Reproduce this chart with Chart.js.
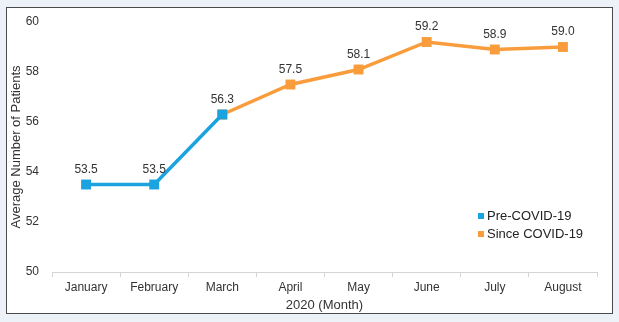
<!DOCTYPE html>
<html>
<head>
<meta charset="utf-8">
<script src="https://cdn.jsdelivr.net/npm/chart.js@4"></script>
<style>
  html, body { margin: 0; padding: 0; background: #edf1f8; }
  #panel {
    position: absolute; left: 6px; top: 7px; width: 605px; height: 305px;
    background: #fff; border: 1px solid #4a4a4a;
  }
  #wrap { position: absolute; left: 0; top: 0; width: 619px; height: 322px; }
</style>
</head>
<body>
<div id="panel"></div>
<div id="wrap"><canvas id="chart" width="619" height="322"></canvas></div>
<script>
/* ---- data ---- */
const months = ["January", "February", "March", "April", "May", "June", "July", "August"];
const preCovid = [53.5, 53.5, 56.3, null, null, null, null, null];
const sinceCovid = [null, null, 56.3, 57.5, 58.1, 59.2, 58.9, 59.0];
const seriesNames = ["Pre-COVID-19", "Since COVID-19"];
const yMin = 50, yMax = 60, yStep = 2;

const BLUE = "#1aa3de";
const ORANGE = "#f89c3c";
const FONT = "'Liberation Sans', Arial, sans-serif";

/* value labels above points, each index drawn once */
const pointLabels = {
    id: "pointLabels",
    afterDatasetsDraw(chart) {
        const ctx = chart.ctx;
        const done = {};
        ctx.save();
        ctx.font = "12px " + FONT;
        ctx.fillStyle = "#333";
        ctx.textAlign = "center";
        ctx.textBaseline = "middle";
        chart.data.datasets.forEach((ds, di) => {
            chart.getDatasetMeta(di).data.forEach((pt, i) => {
                const v = ds.data[i];
                if (v === null || done[i]) return;
                done[i] = true;
                ctx.fillText(v.toFixed(1), pt.x, pt.y - 15);
            });
        });
        ctx.restore();
    }
};

/* legend at lower right of the plot */
const cornerLegend = {
    id: "cornerLegend",
    afterDraw(chart) {
        const ctx = chart.ctx;
        const x = 478, y0 = 216, gap = 18;
        ctx.save();
        ctx.font = "13px " + FONT;
        ctx.textBaseline = "middle";
        chart.data.datasets.forEach((ds, i) => {
            const y = y0 + i * gap;
            ctx.fillStyle = ds.borderColor;
            ctx.fillRect(x, y - 3, 6, 6);
            ctx.fillStyle = "#222";
            ctx.fillText(ds.label, x + 9, y);
        });
        ctx.restore();
    }
};

new Chart(document.getElementById("chart"), {
    type: "line",
    data: {
        labels: months,
        datasets: [
            {
                label: seriesNames[0], data: preCovid,
                borderColor: BLUE, backgroundColor: BLUE,
                borderWidth: 3.5, pointStyle: "rect", pointRadius: 7,
                pointBorderWidth: 0, tension: 0
            },
            {
                label: seriesNames[1], data: sinceCovid,
                borderColor: ORANGE, backgroundColor: ORANGE,
                borderWidth: 3.5, pointStyle: "rect", pointRadius: 7,
                pointBorderWidth: 0, tension: 0
            }
        ]
    },
    options: {
        responsive: false,
        animation: false,
        layout: { padding: { top: 22, right: 22, bottom: 9, left: 0 } },
        plugins: { legend: { display: false }, tooltip: { enabled: false } },
        scales: {
            x: {
                offset: true,
                grid: { display: true, drawOnChartArea: false, drawTicks: true, tickLength: 5, offset: true, color: "#d4d4d4" },
                border: { display: true, color: "#d4d4d4" },
                ticks: { color: "#333", font: { family: FONT, size: 12 }, padding: 3, maxRotation: 0 },
                title: { display: true, text: "2020 (Month)", color: "#333", font: { family: FONT, size: 13 }, padding: { top: 0, bottom: 0 } },
                afterFit(s) { s.height = 41; }
            },
            y: {
                min: yMin, max: yMax,
                grid: { display: false, drawTicks: false },
                border: { display: false },
                ticks: { stepSize: yStep, color: "#333", font: { family: FONT, size: 12 }, padding: 13 },
                title: { display: true, text: "Average Number of Patients", color: "#333", font: { family: FONT, size: 13 }, padding: { top: 9, bottom: 0 } },
                afterFit(s) { s.width = 52; }
            }
        }
    },
    plugins: [pointLabels, cornerLegend]
});
</script>
</body>
</html>
